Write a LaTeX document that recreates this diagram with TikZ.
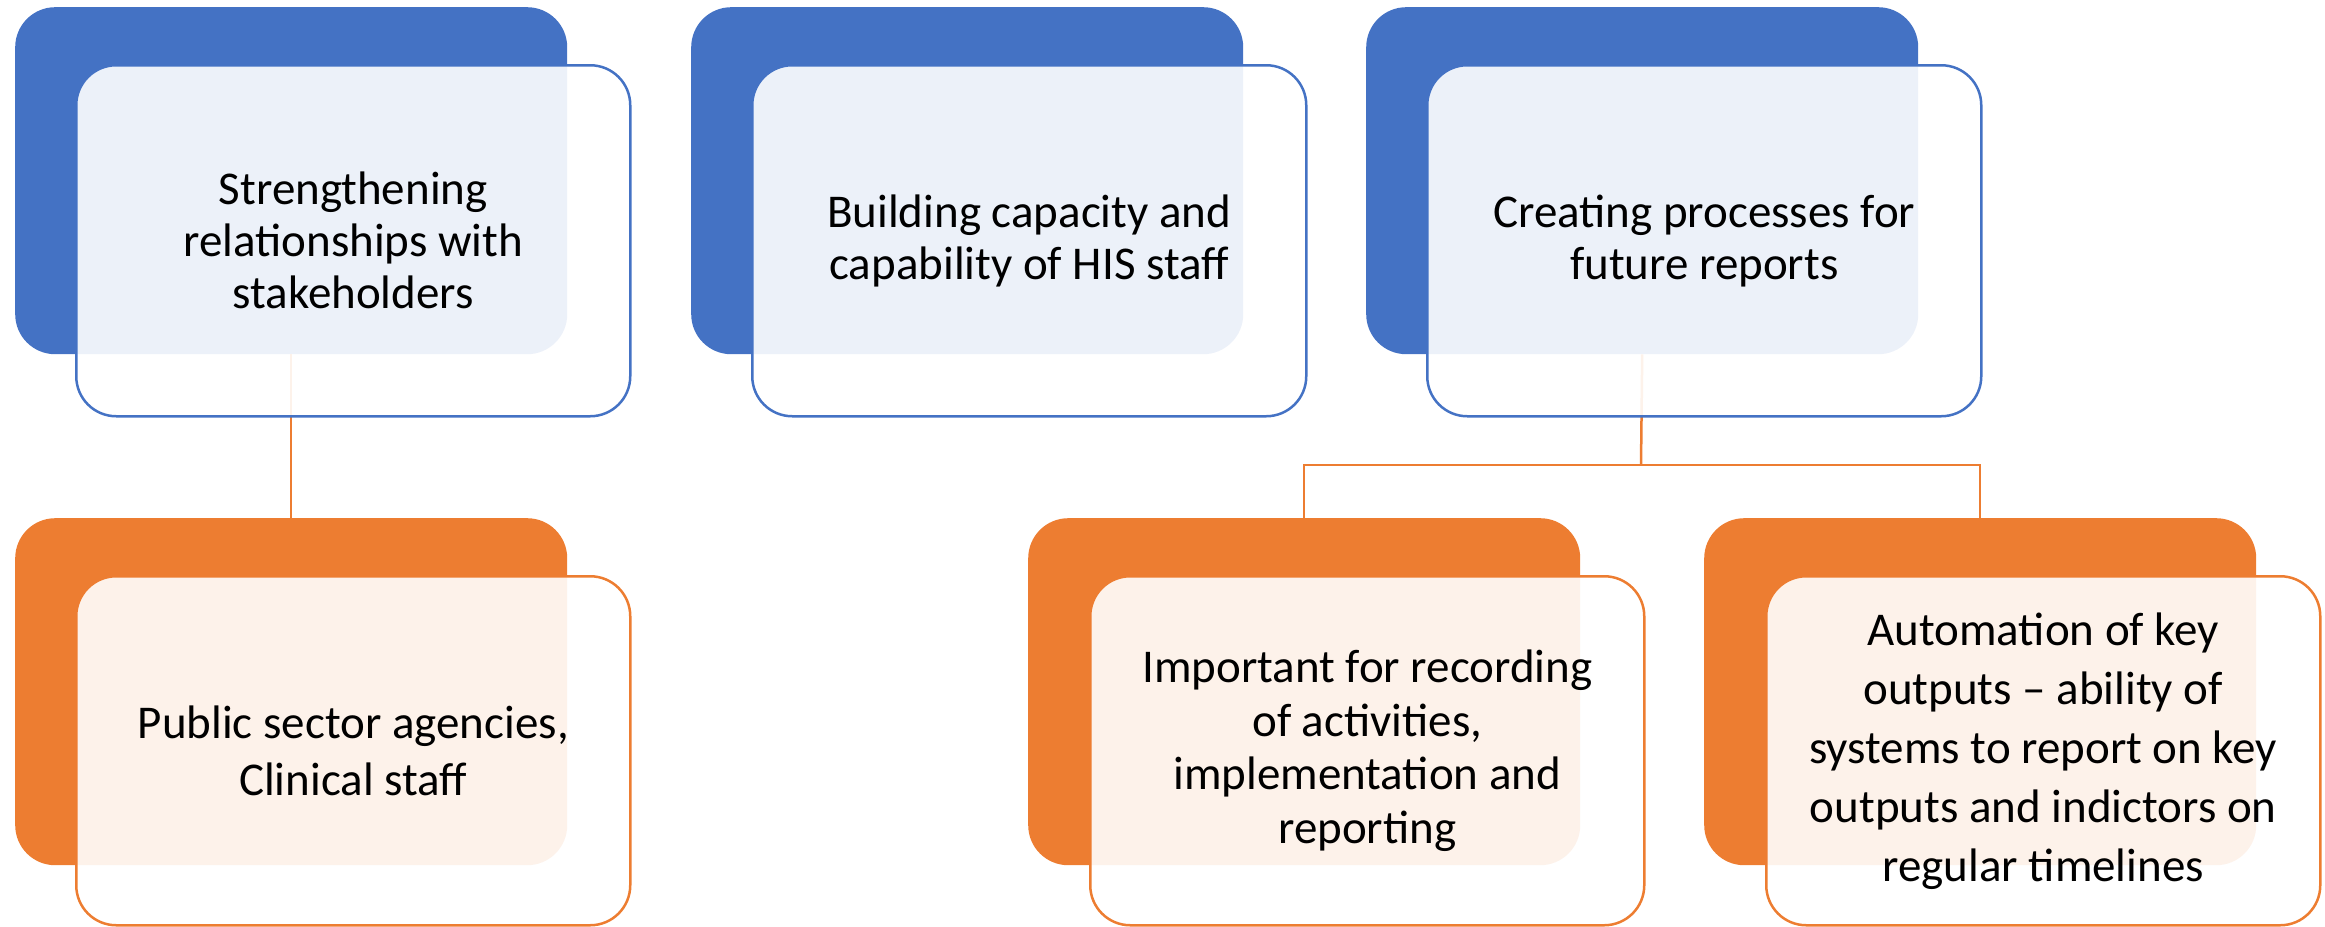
\documentclass[tikz,border=0pt]{standalone}
\usepackage{fontspec}
\setmainfont{Carlito}
\definecolor{cblue}{HTML}{4472C4}
\definecolor{corange}{HTML}{ED7D31}
\tikzset{
  backbox/.style={rectangle, rounded corners=40pt, fill=#1, draw=none,
    minimum width=552pt, minimum height=347pt, inner sep=0pt, anchor=north west},
  frontbox/.style={rectangle, rounded corners=40pt, fill=white, fill opacity=0.9,
    text opacity=1, draw=#1, line width=2.5pt, minimum width=554pt, minimum height=351pt,
    inner sep=0pt, anchor=north west, align=center, text=black,
    font=\fontsize{47}{52}\selectfont},
  lines/.style={font=\fontsize{47}{#1}\selectfont},
  conn/.style={draw=corange, line width=2.5pt}
}
\begin{document}
\begin{tikzpicture}[x=1pt,y=-1pt]
\useasboundingbox (0,0) rectangle (2325,926);
% back boxes
\node[backbox=cblue] (b1) at (15,7) {};
\node[backbox=cblue] (b2) at (691,7) {};
\node[backbox=cblue] (b3) at (1366,7) {};
\node[backbox=corange] (b4) at (15,518) {};
\node[backbox=corange] (b5) at (1028,518) {};
\node[backbox=corange] (b6) at (1704,518) {};
% connectors
\coordinate (j) at (1641,465);
\draw[conn] (b1.south) -- (b4.north);
\draw[conn] (b3.south) -- (j);
\draw[conn] (j) -| (b5.north);
\draw[conn] (j) -| (b6.north);
% front boxes
\node[frontbox=cblue] (f1) at (75,64) {Strengthening\\relationships with\\stakeholders};
\node[frontbox=cblue] (f2) at (751,64) {Building capacity and\\capability of HIS staff};
\node[frontbox=cblue] (f3) at (1426,64) {Creating processes for\\future reports};
\node[frontbox=corange, minimum height=349pt, lines=57.5] (f4) at (75,575) {Public sector agencies,\\Clinical staff};
\node[frontbox=corange, minimum height=349pt, lines=53.5] (f5) at (1089,575) {Important for recording\\of activities,\\implementation and\\reporting};
\node[frontbox=corange, minimum height=349pt, lines=59] (f6) at (1765,575) {Automation of key\\outputs -- ability of\\systems to report on key\\outputs and indictors on\\regular timelines};
\end{tikzpicture}
\end{document}
